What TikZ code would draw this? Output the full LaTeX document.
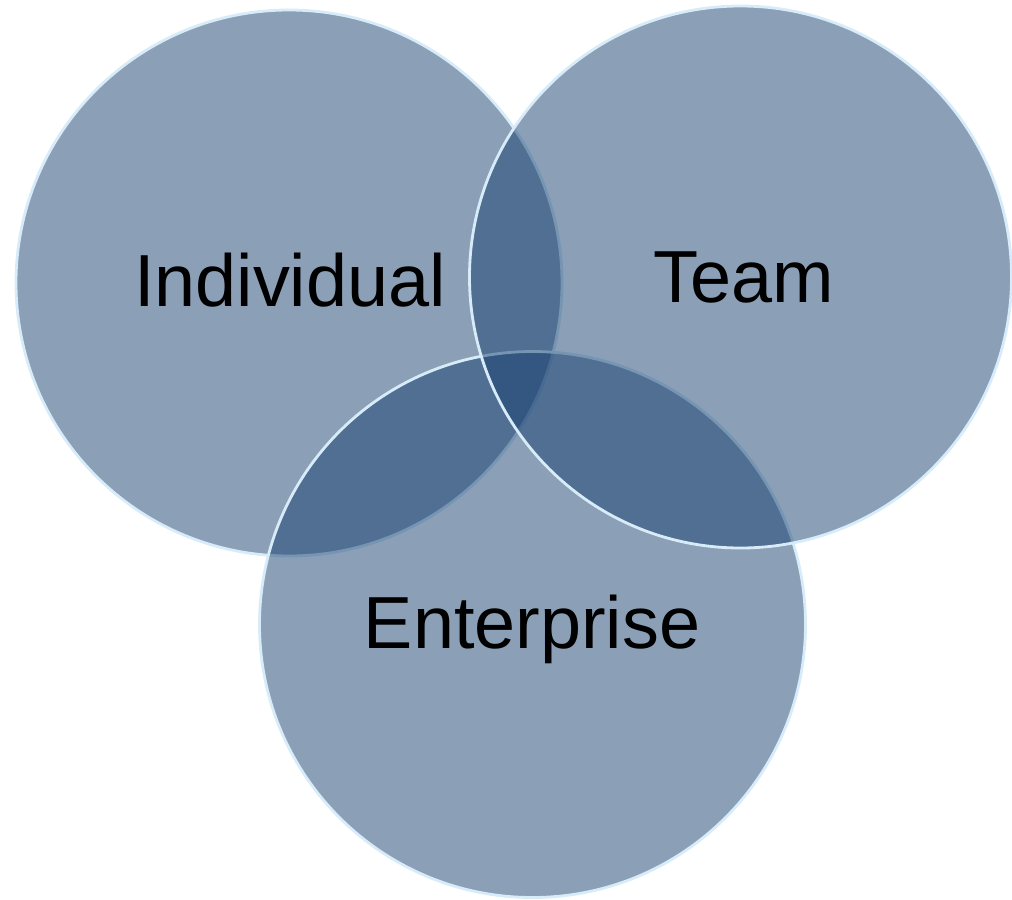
\documentclass[tikz,border=0pt]{standalone}
\definecolor{vennblue}{RGB}{23, 64, 112}
\definecolor{rimblue}{RGB}{215, 236, 248}
\usepackage{fontspec}
\setmainfont{Liberation Sans}
\usepackage{tikz}
\usetikzlibrary{positioning}

\tikzset{
  venncircle/.style={circle, draw=rimblue, line width=1.6pt, fill=vennblue, fill opacity=0.5, draw opacity=1, minimum size=10.92cm, inner sep=0pt},
  vennlabel/.style={font=\fontsize{42}{50}\selectfont, text=black, anchor=base, inner sep=0pt}
}

\begin{document}
\begin{tikzpicture}
  \useasboundingbox (0, 0) rectangle (20.24, -17.98);

  % Circles
  \node[venncircle] (indiv) at (5.78, -5.66) {};
  \node[venncircle] (enter) at (10.65, -12.49) {};
  \node[venncircle, minimum size=10.84cm] (team) at (14.81, -5.54) {};

  % Labels
  \node[vennlabel] (indivtext) at (5.80, -6.12) {Individual};
  \node[vennlabel] (teamtext) at (14.88, -6.04) {Team};
  \node[vennlabel] (entertext) at (10.64, -12.96) {Enterprise};
\end{tikzpicture}
\end{document}
